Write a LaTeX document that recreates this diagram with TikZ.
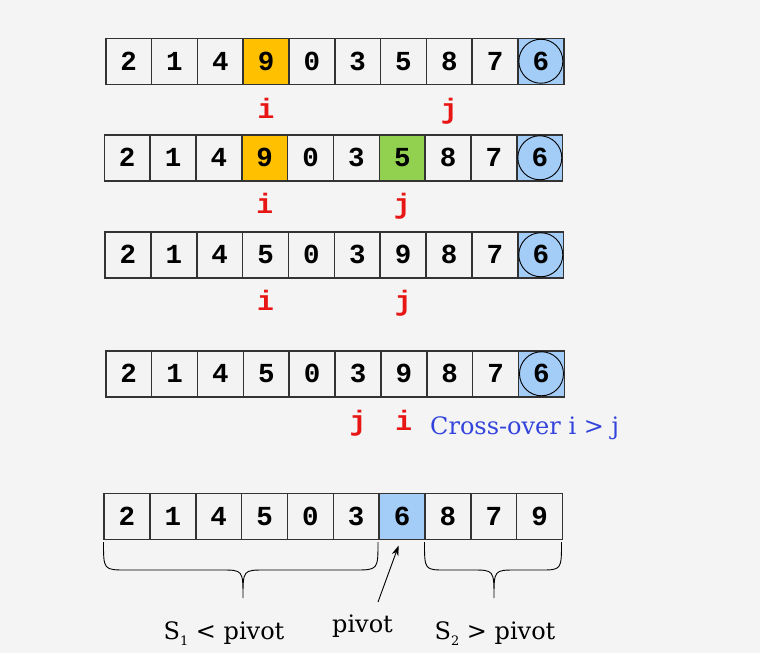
\documentclass[tikz,border=0pt]{standalone}
\usepackage{fontspec}
\setmonofont{Liberation Mono}
\newfontfamily\dejaserif{DejaVu Serif}
\usetikzlibrary{arrows.meta}
\definecolor{bg}{HTML}{F4F4F4}
\definecolor{cellfill}{HTML}{F3F3F3}
\definecolor{cellline}{HTML}{333333}
\definecolor{ycell}{HTML}{FFC000}
\definecolor{gcell}{HTML}{92D050}
\definecolor{bcell}{HTML}{A3CCF7}
\definecolor{ptr}{HTML}{E81515}
\definecolor{xblue}{HTML}{3344DD}
\begin{document}
\begin{tikzpicture}[x=1pt,y=-1pt,
  cell/.style={draw=cellline, line width=1.5pt, minimum width=45.8pt, minimum height=46pt,
    inner sep=0pt, anchor=north west, font=\ttfamily\bfseries\fontsize{27.5}{27.5}\selectfont},
  pivring/.style={circle, draw=black, line width=0.9pt, minimum size=44pt, inner sep=0pt},
  ptrlab/.style={anchor=base, inner sep=0pt, text=ptr, font=\ttfamily\bfseries\fontsize{28}{28}\selectfont},
  serlab/.style={anchor=base, inner sep=0pt, font=\dejaserif\fontsize{24}{24}\selectfont},
  bracepath/.style={draw=black, line width=0.9pt}
]
\fill[bg] (0,0) rectangle (760,653);
\useasboundingbox (0,0) rectangle (760,653);

% row 1
\foreach \v/\f [count=\k from 0] in {2/cellfill,1/cellfill,4/cellfill,9/ycell,0/cellfill,3/cellfill,5/cellfill,8/cellfill,7/cellfill,6/bcell}
  \node[cell, fill=\f] (r1c\k) at ({105+45.8*\k},37.5) {\v};
\node[pivring] (r1p) at (r1c9.center) {};
\node[ptrlab, yshift=-33.5pt] (r1i) at (r1c3.south) {i};
\node[ptrlab, yshift=-33.5pt] (r1j) at (r1c7.south) {j};

% row 2
\foreach \v/\f [count=\k from 0] in {2/cellfill,1/cellfill,4/cellfill,9/ycell,0/cellfill,3/cellfill,5/gcell,8/cellfill,7/cellfill,6/bcell}
  \node[cell, fill=\f] (r2c\k) at ({103.5+45.85*\k},134) {\v};
\node[pivring] (r2p) at (r2c9.center) {};
\node[ptrlab, yshift=-32pt] (r2i) at (r2c3.south) {i};
\node[ptrlab, yshift=-32pt] (r2j) at (r2c6.south) {j};

% row 3
\foreach \v/\f [count=\k from 0] in {2/cellfill,1/cellfill,4/cellfill,5/cellfill,0/cellfill,3/cellfill,9/cellfill,8/cellfill,7/cellfill,6/bcell}
  \node[cell, fill=\f] (r3c\k) at ({104.3+45.87*\k},231) {\v};
\node[pivring] (r3p) at (r3c9.center) {};
\node[ptrlab, yshift=-32pt] (r3i) at (r3c3.south) {i};
\node[ptrlab, yshift=-32pt] (r3j) at (r3c6.south) {j};

% row 4
\foreach \v/\f [count=\k from 0] in {2/cellfill,1/cellfill,4/cellfill,5/cellfill,0/cellfill,3/cellfill,9/cellfill,8/cellfill,7/cellfill,6/bcell}
  \node[cell, fill=\f] (r4c\k) at ({105+45.87*\k},350) {\v};
\node[pivring] (r4p) at (r4c9.center) {};
\node[ptrlab, yshift=-33pt] (r4j) at (r4c5.south) {j};
\node[ptrlab, yshift=-33pt] (r4i) at (r4c6.south) {i};
\node[anchor=base west, inner sep=0pt, text=xblue, font=\dejaserif\fontsize{24}{24}\selectfont] (cross) at (430,434) {Cross-over i > j};

% row 5
\foreach \v/\f [count=\k from 0] in {2/cellfill,1/cellfill,4/cellfill,5/cellfill,0/cellfill,3/cellfill,6/bcell,8/cellfill,7/cellfill,9/cellfill}
  \node[cell, fill=\f] (r5c\k) at ({103.3+45.85*\k},492.7) {\v};

% braces
\draw[bracepath] (103.5,542) .. controls (103.5,570) .. (127,570) -- (221,570)
  .. controls (243,570) .. (243,598) .. controls (243,570) .. (265,570) -- (354,570)
  .. controls (378,570) .. (378,542);
\draw[bracepath] (424.5,542) .. controls (424.5,570) .. (446,570) -- (472,570)
  .. controls (494,570) .. (494,598) .. controls (494,570) .. (516,570) -- (540,570)
  .. controls (561.5,570) .. (561.5,542);

% bottom labels
\node[serlab] (s1) at (224,639) {S\raisebox{-6pt}{\fontsize{13}{13}\selectfont 1} < pivot};
\node[serlab] (plab) at (362.5,632) {pivot};
\node[serlab] (s2) at (495,639) {S\raisebox{-6pt}{\fontsize{13}{13}\selectfont 2} > pivot};
\coordinate (atail) at (378,602);
\draw[line width=0.9pt, -{Stealth[length=10pt,width=7pt]}] (atail) -- ([xshift=-3.5pt,yshift=-5.5pt]r5c6.south);
\end{tikzpicture}
\end{document}
